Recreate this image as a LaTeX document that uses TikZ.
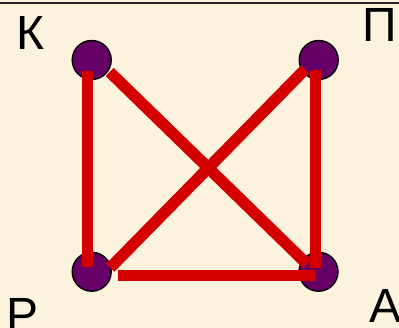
\documentclass[tikz,border=0pt]{standalone}
\usepackage{fontspec}
\setmainfont{Liberation Sans}
\definecolor{bg}{RGB}{252,243,222}
\definecolor{vpurple}{RGB}{102,0,102}
\definecolor{ered}{RGB}{212,0,0}
\begin{document}
\begin{tikzpicture}[x=1pt,y=-1pt,
  vertex/.style={circle,draw=black,line width=1.4pt,fill=vpurple,minimum size=39pt,inner sep=0pt},
  edge/.style={draw=ered,line width=11.5pt,line cap=butt},
  lbl/.style={font=\fontsize{48}{48}\selectfont,inner sep=0pt,text=black}]
\fill[bg] (0,0) rectangle (399,328);
\useasboundingbox (0,0) rectangle (399,328);
\draw[black!85,line width=2pt] (0,2.7) -- (399,2.7);
% vertices
\node[vertex] (k) at (91.7,60) {};
\node[vertex] (p) at (318.7,60) {};
\node[vertex] (r) at (91.7,271.7) {};
\node[vertex] (a) at (318.5,271.7) {};
% labels
\node[lbl] (lk) at (30,32.5) {К};
\node[lbl] (lp) at (380,25) {П};
\node[lbl,anchor=base] (lr) at (22.5,332) {Р};
\node[lbl] (la) at (385.5,305.5) {А};
% edge end points
\coordinate (kv) at (87.5,71);
\coordinate (rv) at (87.5,267);
\coordinate (pv) at (315.5,70);
\coordinate (av) at (315.5,268);
\coordinate (kd) at (109.7,72);
\coordinate (ad) at (307,264);
\coordinate (rd) at (110.3,267.7);
\coordinate (pd) at (305,69.5);
\coordinate (rh) at (118.3,275.5);
\coordinate (ah) at (315,275.5);
% edges
\draw[edge] (kv) -- (rv);
\draw[edge] (pv) -- (av);
\draw[edge] (kd) -- (ad);
\draw[edge] (rd) -- (pd);
\draw[edge] (rh) -- (ah);
\end{tikzpicture}
\end{document}
